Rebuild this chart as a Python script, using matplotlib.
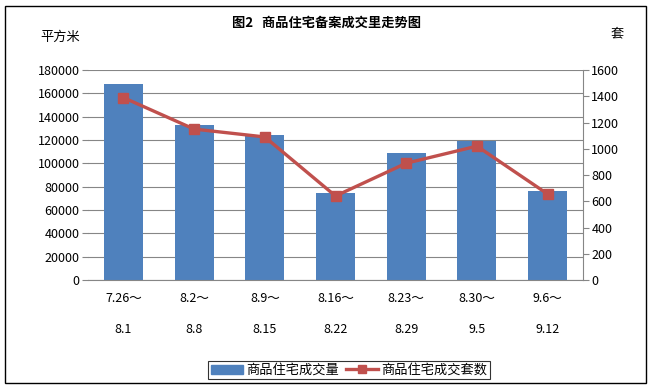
import numpy as np
import matplotlib.pyplot as plt
from matplotlib.patches import Rectangle
from matplotlib.lines import Line2D

plt.rcParams['font.family'] = ['Noto Sans CJK SC', 'DejaVu Sans']

weeks = ["7.26～\n\n8.1", "8.2～\n\n8.8", "8.9～\n\n8.15", "8.16～\n\n8.22",
         "8.23～\n\n8.29", "8.30～\n\n9.5", "9.6～\n\n9.12"]
area = [168000, 133000, 124500, 75000, 109000, 119500, 76000]
units = [1390, 1150, 1090, 640, 890, 1020, 655]

bar_c = "#4F81BD"
line_c = "#C0504D"
grid_c = "#868686"

fig = plt.figure(figsize=(6.53, 3.91), dpi=100)
fig.patches.append(Rectangle((0.008, 0.02), 0.982, 0.965, transform=fig.transFigure,
                             fill=False, edgecolor="black", linewidth=1))

ax = fig.add_axes([0.1348, 0.2839, 0.758, 0.537])
x = np.arange(len(weeks))
ax.bar(x, area, width=0.55, color=bar_c, zorder=2)
ax.set_xlim(-0.5, len(weeks) - 0.5)
ax.set_ylim(0, 180000)
ax.set_yticks(np.arange(0, 180001, 20000))
ax.yaxis.grid(True, color=grid_c, linewidth=0.8, zorder=0)
ax.set_xticks(x)
ax.set_xticklabels(weeks, fontsize=9, linespacing=1.25)
ax.tick_params(axis='x', length=0, pad=9)
ax.tick_params(axis='y', labelsize=9, length=4, width=0.8, color=grid_c,
               direction='out', pad=2)
for s in ['top', 'right', 'left']:
    ax.spines[s].set_visible(False)
ax.spines['bottom'].set_color(grid_c)
ax.spines['bottom'].set_linewidth(0.8)

ax2 = ax.twinx()
ax2.plot(x, units, color=line_c, linewidth=2.4, marker='s', markersize=7, zorder=3)
ax2.set_ylim(0, 1600)
ax2.set_yticks(np.arange(0, 1601, 200))
ax2.tick_params(axis='y', labelsize=9, length=4, width=0.8, color=grid_c,
                direction='out', pad=2)
for s in ['top', 'left', 'bottom']:
    ax2.spines[s].set_visible(False)
ax2.spines['right'].set_color(grid_c)
ax2.spines['right'].set_linewidth(0.8)

fig.text(0.5, 0.942, "图2   商品住宅备案成交里走势图", ha='center', va='center',
         fontsize=9.5, fontweight='bold')
fig.text(0.062, 0.905, "平方米", ha='left', va='center', fontsize=9.5)
fig.text(0.935, 0.914, "套", ha='left', va='center', fontsize=9.5)

handles = [Rectangle((0, 0), 1, 1, color=bar_c),
           Line2D([0], [0], color=line_c, linewidth=2.4, marker='s', markersize=6)]
leg = fig.legend(handles, ["商品住宅成交量", "商品住宅成交套数"], loc='center',
                 bbox_to_anchor=(0.535, 0.053), ncol=2, fontsize=9.5, frameon=True,
                 fancybox=False, edgecolor='black', handlelength=2.4,
                 columnspacing=0.5, handletextpad=0.3, borderpad=0.2)
leg.get_frame().set_linewidth(0.8)

fig.savefig("out.png", dpi=100)
